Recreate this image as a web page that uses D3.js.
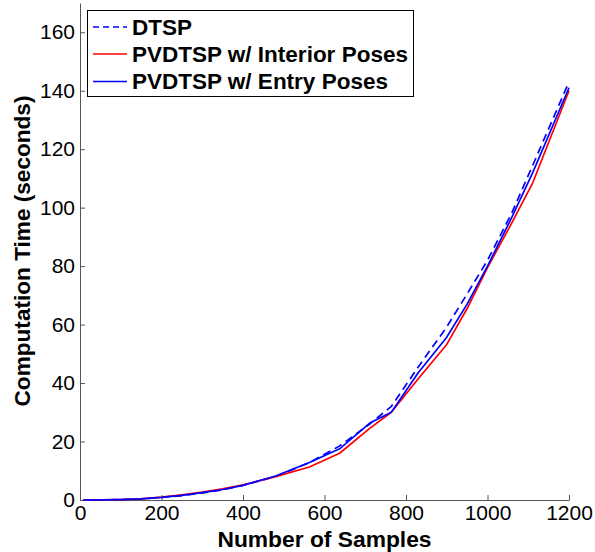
<!DOCTYPE html>
<html>
<head>
<meta charset="utf-8">
<script src="https://cdn.jsdelivr.net/npm/d3@7"></script>
<style>
  html, body { margin: 0; padding: 0; background: #fff; }
  svg { display: block; }
  text { font-family: Arial, "Liberation Sans", Helvetica, sans-serif; }
</style>
</head>
<body>
<svg id="chart" width="595" height="552"></svg>
<script>
// ---- data ----
const samples = [8, 50, 100, 150, 200, 250, 300, 350, 400, 480, 563, 637, 711, 764, 830, 899, 950, 1000, 1059, 1111, 1200];
const dtsp     = [0, 0.05, 0.15, 0.4, 0.9, 1.5, 2.4, 3.5, 5.0, 8.0, 12.8, 18.5, 26.0, 32.0, 45.5, 59.0, 70.5, 82.0, 98.0, 114.5, 143.0];
const interior = [0, 0.05, 0.15, 0.4, 1.0, 1.8, 2.7, 3.8, 5.2, 8.0, 11.3, 16.0, 24.5, 30.0, 41.5, 53.0, 65.5, 79.5, 94.6, 108.5, 140.0];
const entry    = [0, 0.05, 0.15, 0.4, 0.9, 1.6, 2.5, 3.6, 5.0, 8.2, 12.8, 17.5, 26.3, 30.0, 43.5, 55.5, 67.0, 80.0, 96.5, 112.0, 141.0];
const seriesNames = ["DTSP", "PVDTSP w/ Interior Poses", "PVDTSP w/ Entry Poses"];
const xTicks = [0, 200, 400, 600, 800, 1000, 1200];
const yTicks = [0, 20, 40, 60, 80, 100, 120, 140, 160];
const xLabel = "Number of Samples";
const yLabel = "Computation Time (seconds)";

const series = [
  { name: seriesNames[0], values: dtsp,     color: "#0000ff", dash: "8,5" },
  { name: seriesNames[1], values: interior, color: "#ff0000", dash: null },
  { name: seriesNames[2], values: entry,    color: "#0000ff", dash: null }
];

const svg = d3.select("#chart");
const x = d3.scaleLinear().domain([0, 1200]).range([80, 569]);
const y = d3.scaleLinear().domain([0, 170]).range([500, 3]);

// axes
const xAxis = d3.axisBottom(x).tickValues(xTicks).tickSizeInner(-5).tickSizeOuter(0).tickPadding(5).tickFormat(d3.format("d"));
const yAxis = d3.axisLeft(y).tickValues(yTicks).tickSizeInner(-5).tickSizeOuter(0).tickPadding(5).tickFormat(d3.format("d"));

const gx = svg.append("g").attr("transform", "translate(0,500)").call(xAxis);
const gy = svg.append("g").attr("transform", "translate(80,0)").call(yAxis);
[gx, gy].forEach(g => {
  g.selectAll("path.domain").attr("stroke", "#555").attr("stroke-width", 1);
  g.selectAll(".tick line").attr("stroke", "#555");
  g.selectAll(".tick text").attr("fill", "#000").style("font-size", "21px")
    .style("font-family", "Arial, 'Liberation Sans', sans-serif");
});

// lines
const line = d3.line().x((d, i) => x(samples[i])).y(d => y(d));
series.forEach(s => {
  svg.append("path")
    .datum(s.values)
    .attr("fill", "none")
    .attr("stroke", s.color)
    .attr("stroke-width", 1.7)
    .attr("stroke-dasharray", s.dash)
    .attr("stroke-linejoin", "round")
    .attr("d", line);
});

// axis titles
svg.append("text")
  .attr("x", (x.range()[0] + x.range()[1]) / 2)
  .attr("y", 547)
  .attr("text-anchor", "middle")
  .style("font-size", "22.8px").style("font-weight", "bold")
  .text(xLabel);

svg.append("text")
  .attr("transform", "translate(30,251) rotate(-90)")
  .attr("text-anchor", "middle")
  .style("font-size", "22.6px").style("font-weight", "bold")
  .text(yLabel);

// legend
const lg = svg.append("g");
lg.append("rect").attr("x", 87.5).attr("y", 10.5).attr("width", 326).attr("height", 86)
  .attr("fill", "#fff").attr("stroke", "#000").attr("stroke-width", 1);
const rowY = [27, 54, 81.5];
series.forEach((s, i) => {
  lg.append("line")
    .attr("x1", 93).attr("x2", 127).attr("y1", rowY[i]).attr("y2", rowY[i])
    .attr("stroke", s.color).attr("stroke-width", 1.7)
    .attr("stroke-dasharray", s.dash ? "6,4" : null);
  lg.append("text")
    .attr("x", 132).attr("y", rowY[i] + 7.5)
    .style("font-size", "22.5px").style("font-weight", "bold")
    .text(s.name);
});
</script>
</body>
</html>
